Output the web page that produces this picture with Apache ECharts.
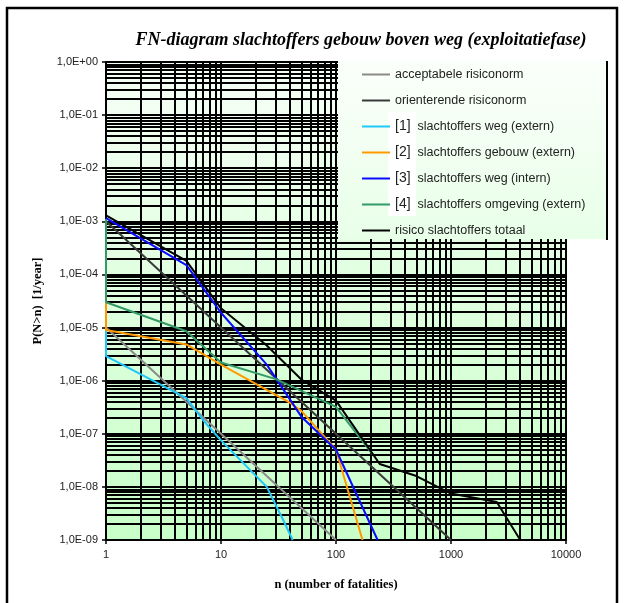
<!DOCTYPE html>
<html><head><meta charset="utf-8">
<script src="https://cdn.jsdelivr.net/npm/echarts@6/dist/echarts.min.js"></script>
<style>html,body{margin:0;padding:0;background:#fff}#c{width:625px;height:603px}</style>
</head><body><div id="c"></div>
<script>
// ---- text ----
const titleText = 'FN-diagram slachtoffers gebouw boven weg (exploitatiefase)';
const xAxisName = 'n (number of fatalities)';
const yAxisName = 'P(N>n)  [1/year]';

// ---- ticks ----
const xTickValues = [1, 10, 100, 1000, 10000];
const xTickLabels = ['1', '10', '100', '1000', '10000'];
const yTickExponents = [0, -1, -2, -3, -4, -5, -6, -7, -8, -9];
const yTickLabels = ['1,0E+00', '1,0E-01', '1,0E-02', '1,0E-03', '1,0E-04', '1,0E-05', '1,0E-06', '1,0E-07', '1,0E-08', '1,0E-09'];

// ---- series ----
const seriesNames = [
  'acceptabele risiconorm',
  'orienterende risiconorm',
  '[1] slachtoffers weg (extern)',
  '[2] slachtoffers gebouw (extern)',
  '[3] slachtoffers weg (intern)',
  '[4] slachtoffers omgeving (extern)',
  'risico slachtoffers totaal'
];
const seriesColors = ['#8a8a8a', '#3a3a3a', '#1ec8f8', '#ff9900', '#0a0aff', '#339966', '#000000'];

const acceptN = [1, 100];
const acceptP = [1e-5, 1e-9];
const orientN = [1, 1000];
const orientP = [1e-3, 1e-9];
const wegExternN = [1, 1, 5, 7, 10, 25, 35, 42];
const wegExternP = [1.1e-3, 2.9e-6, 4.7e-7, 1.8e-7, 7.5e-8, 1e-8, 2.3e-9, 1e-9];
const gebouwExternN = [1, 1, 5, 10, 40, 50, 100, 170];
const gebouwExternP = [1.1e-3, 9e-6, 4.8e-6, 2e-6, 3.8e-7, 2.7e-7, 5e-8, 1e-9];
const wegInternN = [1, 5, 10, 25, 50, 100, 230];
const wegInternP = [1.15e-3, 1.5e-4, 1.9e-5, 2e-6, 2.1e-7, 5e-8, 1e-9];
const omgevingN = [1, 1, 5, 10, 30, 100, 210];
const omgevingP = [1.1e-3, 3e-5, 8.5e-6, 2.2e-6, 1.07e-6, 3.2e-7, 4e-8];
const totaalN = [1, 5, 10, 25, 50, 100, 240, 500, 1000, 2500, 4000];
const totaalP = [1.3e-3, 1.8e-4, 2.3e-5, 4.6e-6, 1.05e-6, 4.2e-7, 2.7e-8, 1.6e-8, 7.5e-9, 5.2e-9, 1e-9];

const seriesN = [acceptN, orientN, wegExternN, gebouwExternN, wegInternN, omgevingN, totaalN];
const seriesP = [acceptP, orientP, wegExternP, gebouwExternP, wegInternP, omgevingP, totaalP];

// ---- minor log grid lines (2..9 x 10^k) ----
const gridMultipliers = [2, 3, 4, 5, 6, 7, 8, 9];
const xDecades = [1, 10, 100, 1000];
const yDecades = [1e-9, 1e-8, 1e-7, 1e-6, 1e-5, 1e-4, 1e-3, 1e-2, 1e-1];
const xMin = 1, xMax = 10000, yMin = 1e-9, yMax = 1;
const xMinor = [], yMinor = [];
xDecades.forEach(d => gridMultipliers.forEach(m => xMinor.push(m * d)));
yDecades.forEach(d => gridMultipliers.forEach(m => yMinor.push(m * d)));

const chart = echarts.init(document.getElementById('c'), null, {renderer: 'canvas'});

const dataSeries = seriesNames.map((name, i) => ({
  type: 'line',
  name: name,
  data: seriesN[i].map((n, j) => [n, seriesP[i][j]]),
  symbol: 'none',
  showSymbol: false,
  clip: true,
  z: 3,
  lineStyle: {color: seriesColors[i], width: 2},
  itemStyle: {color: seriesColors[i]},
  emphasis: {disabled: true},
  animation: false
}));

const gridLines = xMinor.map(v => ({coords: [[v, yMin], [v, yMax]]}))
  .concat(yMinor.map(v => ({coords: [[xMin, v], [xMax, v]]})));

const gridSeries = {
  type: 'lines',
  name: 'grid',
  coordinateSystem: 'cartesian2d',
  data: gridLines,
  silent: true,
  z: 1,
  animation: false,
  symbol: ['none', 'none'],
  lineStyle: {color: '#000', width: 2, opacity: 1, curveness: 0},
  emphasis: {disabled: true}
};

const serifFont = '"Liberation Serif", "Times New Roman", serif';
const sansFont = '"Liberation Sans", Arial, sans-serif';

chart.setOption({
  backgroundColor: '#ffffff',
  animation: false,
  title: {
    text: titleText,
    left: 356,
    top: 26,
    textAlign: 'center',
    textStyle: {fontFamily: serifFont, fontStyle: 'italic', fontWeight: 'bold', fontSize: 18, color: '#000'}
  },
  grid: {
    left: 106, right: 59, top: 62, bottom: 63,
    show: true,
    borderWidth: 0,
    backgroundColor: new echarts.graphic.LinearGradient(0, 0, 0, 1, [
      {offset: 0, color: '#f6fff6'},
      {offset: 1, color: '#c8ffc8'}
    ])
  },
  xAxis: {
    type: 'log',
    logBase: 10,
    min: xMin,
    max: xMax,
    interval: 1,
    name: xAxisName,
    nameLocation: 'middle',
    nameGap: 38,
    nameTextStyle: {fontFamily: serifFont, fontWeight: 'bold', fontSize: 12.5, color: '#000'},
    axisLine: {show: true, onZero: false, lineStyle: {color: '#000', width: 2}},
    axisTick: {show: true, length: 4, lineStyle: {color: '#000', width: 1.5}},
    axisLabel: {
      margin: 9,
      fontFamily: sansFont, fontSize: 11, color: '#222',
      formatter: v => {
        const i = xTickValues.findIndex(t => Math.abs(Math.log10(t) - Math.log10(v)) < 1e-6);
        return i >= 0 ? xTickLabels[i] : '';
      }
    },
    splitLine: {show: true, lineStyle: {color: '#000', width: 2}},
    minorTick: {show: false},
    minorSplitLine: {show: false}
  },
  yAxis: {
    type: 'log',
    logBase: 10,
    min: yMin,
    max: yMax,
    interval: 1,
    name: yAxisName,
    nameLocation: 'middle',
    nameGap: 62,
    nameTextStyle: {fontFamily: serifFont, fontWeight: 'bold', fontSize: 12.5, color: '#000'},
    axisLine: {show: true, onZero: false, lineStyle: {color: '#000', width: 2}},
    axisTick: {show: true, length: 4, lineStyle: {color: '#000', width: 1.5}},
    axisLabel: {
      margin: 8,
      fontFamily: sansFont, fontSize: 11, color: '#222',
      formatter: v => {
        const e = Math.round(Math.log10(v));
        const i = yTickExponents.indexOf(e);
        return i >= 0 ? yTickLabels[i] : '';
      }
    },
    splitLine: {show: true, lineStyle: {color: '#000', width: 2}},
    minorTick: {show: false},
    minorSplitLine: {show: false}
  },
  legend: {
    data: seriesNames,
    orient: 'vertical',
    left: 362,
    top: 67,
    padding: 0,
    z: 20,
    icon: 'rect',
    itemWidth: 28,
    itemHeight: 2,
    itemGap: 11,
    selectedMode: false,
    textStyle: {
      fontFamily: sansFont, fontSize: 12.5, color: '#222', lineHeight: 15,
      rich: {b: {fontFamily: sansFont, fontSize: 14, color: '#222', lineHeight: 15}}
    },
    formatter: name => {
      const m = name.match(/^(\[\d\])\s(.*)$/);
      return m ? '{b|' + m[1] + '}  ' + m[2] : name;
    }
  },
  graphic: [
    {
      type: 'rect', z: 10, silent: true,
      shape: {x: 338, y: 61, width: 268, height: 178},
      style: {fill: new echarts.graphic.LinearGradient(0, 0, 0, 1, [
        {offset: 0, color: '#fbfffb'},
        {offset: 1, color: '#e8ffe8'}
      ])}
    },
    {
      type: 'line', z: 11, silent: true,
      shape: {x1: 607, y1: 61, x2: 607, y2: 240},
      style: {stroke: '#000', lineWidth: 2}
    },
    {
      type: 'rect', z: 11, silent: true,
      shape: {x: 388, y: 112, width: 28, height: 104},
      style: {fill: '#ffffff'}
    },
    {
      type: 'rect', z: 30, silent: true,
      shape: {x: 7, y: 8, width: 610, height: 620},
      style: {fill: 'none', stroke: '#000', lineWidth: 2.5}
    }
  ],
  series: [gridSeries].concat(dataSeries)
});
</script>
</body></html>
